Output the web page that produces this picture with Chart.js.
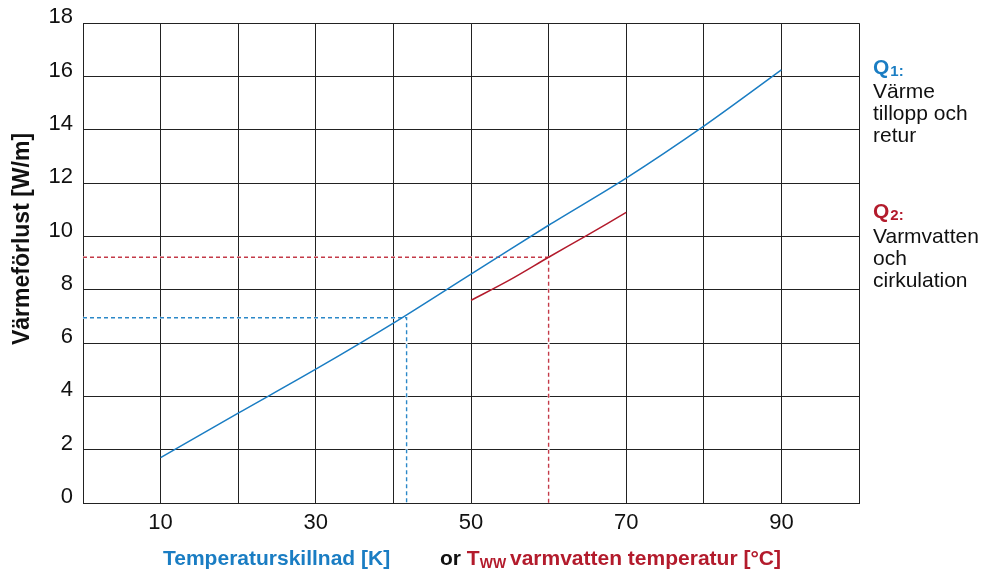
<!DOCTYPE html>
<html>
<head>
<meta charset="utf-8">
<script src="https://cdn.jsdelivr.net/npm/chart.js@4.4.1/dist/chart.umd.min.js"></script>
<style>
    body { margin: 0; background: #fff; }
    #wrap { width: 992px; height: 570px; }
</style>
</head>
<body>
<div id="wrap"><canvas id="myChart" width="992" height="570"></canvas></div>
<script>
// heat loss per metre, Q1 = heating supply/return, Q2 = hot water + circulation
const tempDiff = [10, 20, 30, 40, 50, 60, 70, 80, 90];
const q1Loss = [1.7, 3.37, 5.02, 6.75, 8.59, 10.42, 12.19, 14.14, 16.25];
const wwTemp = [50, 55, 60, 65, 70];
const q2Loss = [7.6, 8.37, 9.22, 10.05, 10.9];

// reading examples (dashed guides)
const q1Read = { x: 41.7, y: 6.95 };
const q2Read = { x: 60, y: 9.22 };

const xTickLabels = [10, 30, 50, 70, 90];

const BLUE = '#1a7dc3';
const RED = '#b31b2c';
const GRID = '#222';

const pts = (xs, ys) => xs.map((x, i) => ({ x: x, y: ys[i] }));
const guide = (r) => [{ x: 0, y: r.y }, { x: r.x, y: r.y }, { x: r.x, y: 0 }];

// dashed guides get a white backing so the grid doesn't show through the gaps
const guideBacking = {
    id: 'guideBacking',
    beforeDatasetDraw(chart, args) {
        const ds = chart.data.datasets[args.index];
        if (!ds.borderDash) return;
        const p = args.meta.data;
        const c = chart.ctx;
        c.save();
        c.strokeStyle = '#fff';
        c.lineWidth = 2;
        c.beginPath();
        c.moveTo(p[0].x, p[0].y);
        for (let i = 1; i < p.length; i++) c.lineTo(p[i].x, p[i].y);
        c.stroke();
        c.restore();
    }
};

// axis titles and the Q1/Q2 notes at the right
const textPlugin = {
    id: 'texts',
    afterDraw(chart) {
        const c = chart.ctx;
        c.save();
        c.textBaseline = 'alphabetic';
        c.textAlign = 'left';

        // y title
        c.save();
        c.translate(28.5, 239);
        c.rotate(-Math.PI / 2);
        c.textAlign = 'center';
        c.fillStyle = '#111';
        c.font = 'bold 23px "Liberation Sans", Arial, sans-serif';
        c.fillText('Värmeförlust [W/m]', 0, 0);
        c.restore();

        // x title, several coloured pieces
        const bold = 'bold 21px "Liberation Sans", Arial, sans-serif';
        const base = 565;
        c.font = bold;
        c.fillStyle = BLUE;
        c.fillText('Temperaturskillnad [K]', 163, base);
        c.fillStyle = '#111';
        c.fillText('or', 440, base);
        let x = 440 + c.measureText('or ').width;
        c.fillStyle = RED;
        c.fillText('T', x, base);
        x += c.measureText('T').width;
        c.font = 'bold 14px "Liberation Sans", Arial, sans-serif';
        c.fillText('WW', x, base + 3);
        x += c.measureText('WW ').width;
        c.font = bold;
        c.fillText('varmvatten temperatur [°C]', x, base);

        // notes
        const note = (label, sub, color, y0, lines) => {
            c.font = 'bold 21px "Liberation Sans", Arial, sans-serif';
            c.fillStyle = color;
            c.fillText(label, 873, y0);
            const w = c.measureText(label).width;
            c.font = 'bold 15px "Liberation Sans", Arial, sans-serif';
            c.fillText(sub, 873 + w + 1, y0 + 2);
            c.font = '21px "Liberation Sans", Arial, sans-serif';
            c.fillStyle = '#111';
            lines.forEach((t, i) => c.fillText(t, 873, y0 + 24.5 + i * 22));
        };
        note('Q', '1:', BLUE, 73.5, ['Värme', 'tillopp och', 'retur']);
        note('Q', '2:', RED, 218, ['Varmvatten', 'och', 'cirkulation']);

        c.restore();
    }
};

var ctx = document.getElementById('myChart').getContext('2d');

var myChart = new Chart(ctx, {
    type: 'line',
    data: {
        datasets: [{
            label: 'Q1',
            data: pts(tempDiff, q1Loss),
            borderColor: BLUE,
            borderWidth: 1.5,
            tension: 0.3,
            pointRadius: 0
        }, {
            label: 'Q2',
            data: pts(wwTemp, q2Loss),
            borderColor: RED,
            borderWidth: 1.5,
            tension: 0.3,
            pointRadius: 0
        }, {
            label: 'Q1 read',
            data: guide(q1Read),
            borderColor: '#2b88c8',
            borderWidth: 1.4,
            borderDash: [4, 3],
            pointRadius: 0
        }, {
            label: 'Q2 read',
            data: guide(q2Read),
            borderColor: '#c43a48',
            borderWidth: 1.4,
            borderDash: [4, 3],
            pointRadius: 0
        }]
    },
    options: {
        responsive: false,
        animation: false,
        layout: { padding: { left: 0, right: 133, top: 23, bottom: 0 } },
        plugins: {
            legend: { display: false },
            tooltip: { enabled: false }
        },
        scales: {
            x: {
                type: 'linear',
                min: 0,
                max: 100,
                afterFit: s => { s.height = 67; },
                ticks: {
                    stepSize: 10,
                    padding: 7,
                    color: '#111',
                    font: { family: '"Liberation Sans", Arial, sans-serif', size: 22 },
                    maxRotation: 0,
                    autoSkip: false,
                    callback: v => xTickLabels.includes(v) ? String(v) : ''
                },
                grid: { color: GRID, lineWidth: 1, drawTicks: false },
                border: { color: GRID, width: 1 }
            },
            y: {
                min: 0,
                max: 18,
                afterFit: s => { s.width = 83; },
                ticks: {
                    stepSize: 2,
                    padding: 10,
                    labelOffset: -6,
                    color: '#111',
                    font: { family: '"Liberation Sans", Arial, sans-serif', size: 22 }
                },
                grid: { color: GRID, lineWidth: 1, drawTicks: false },
                border: { color: GRID, width: 1 }
            }
        }
    },
    plugins: [guideBacking, textPlugin]
});
</script>
</body>
</html>
